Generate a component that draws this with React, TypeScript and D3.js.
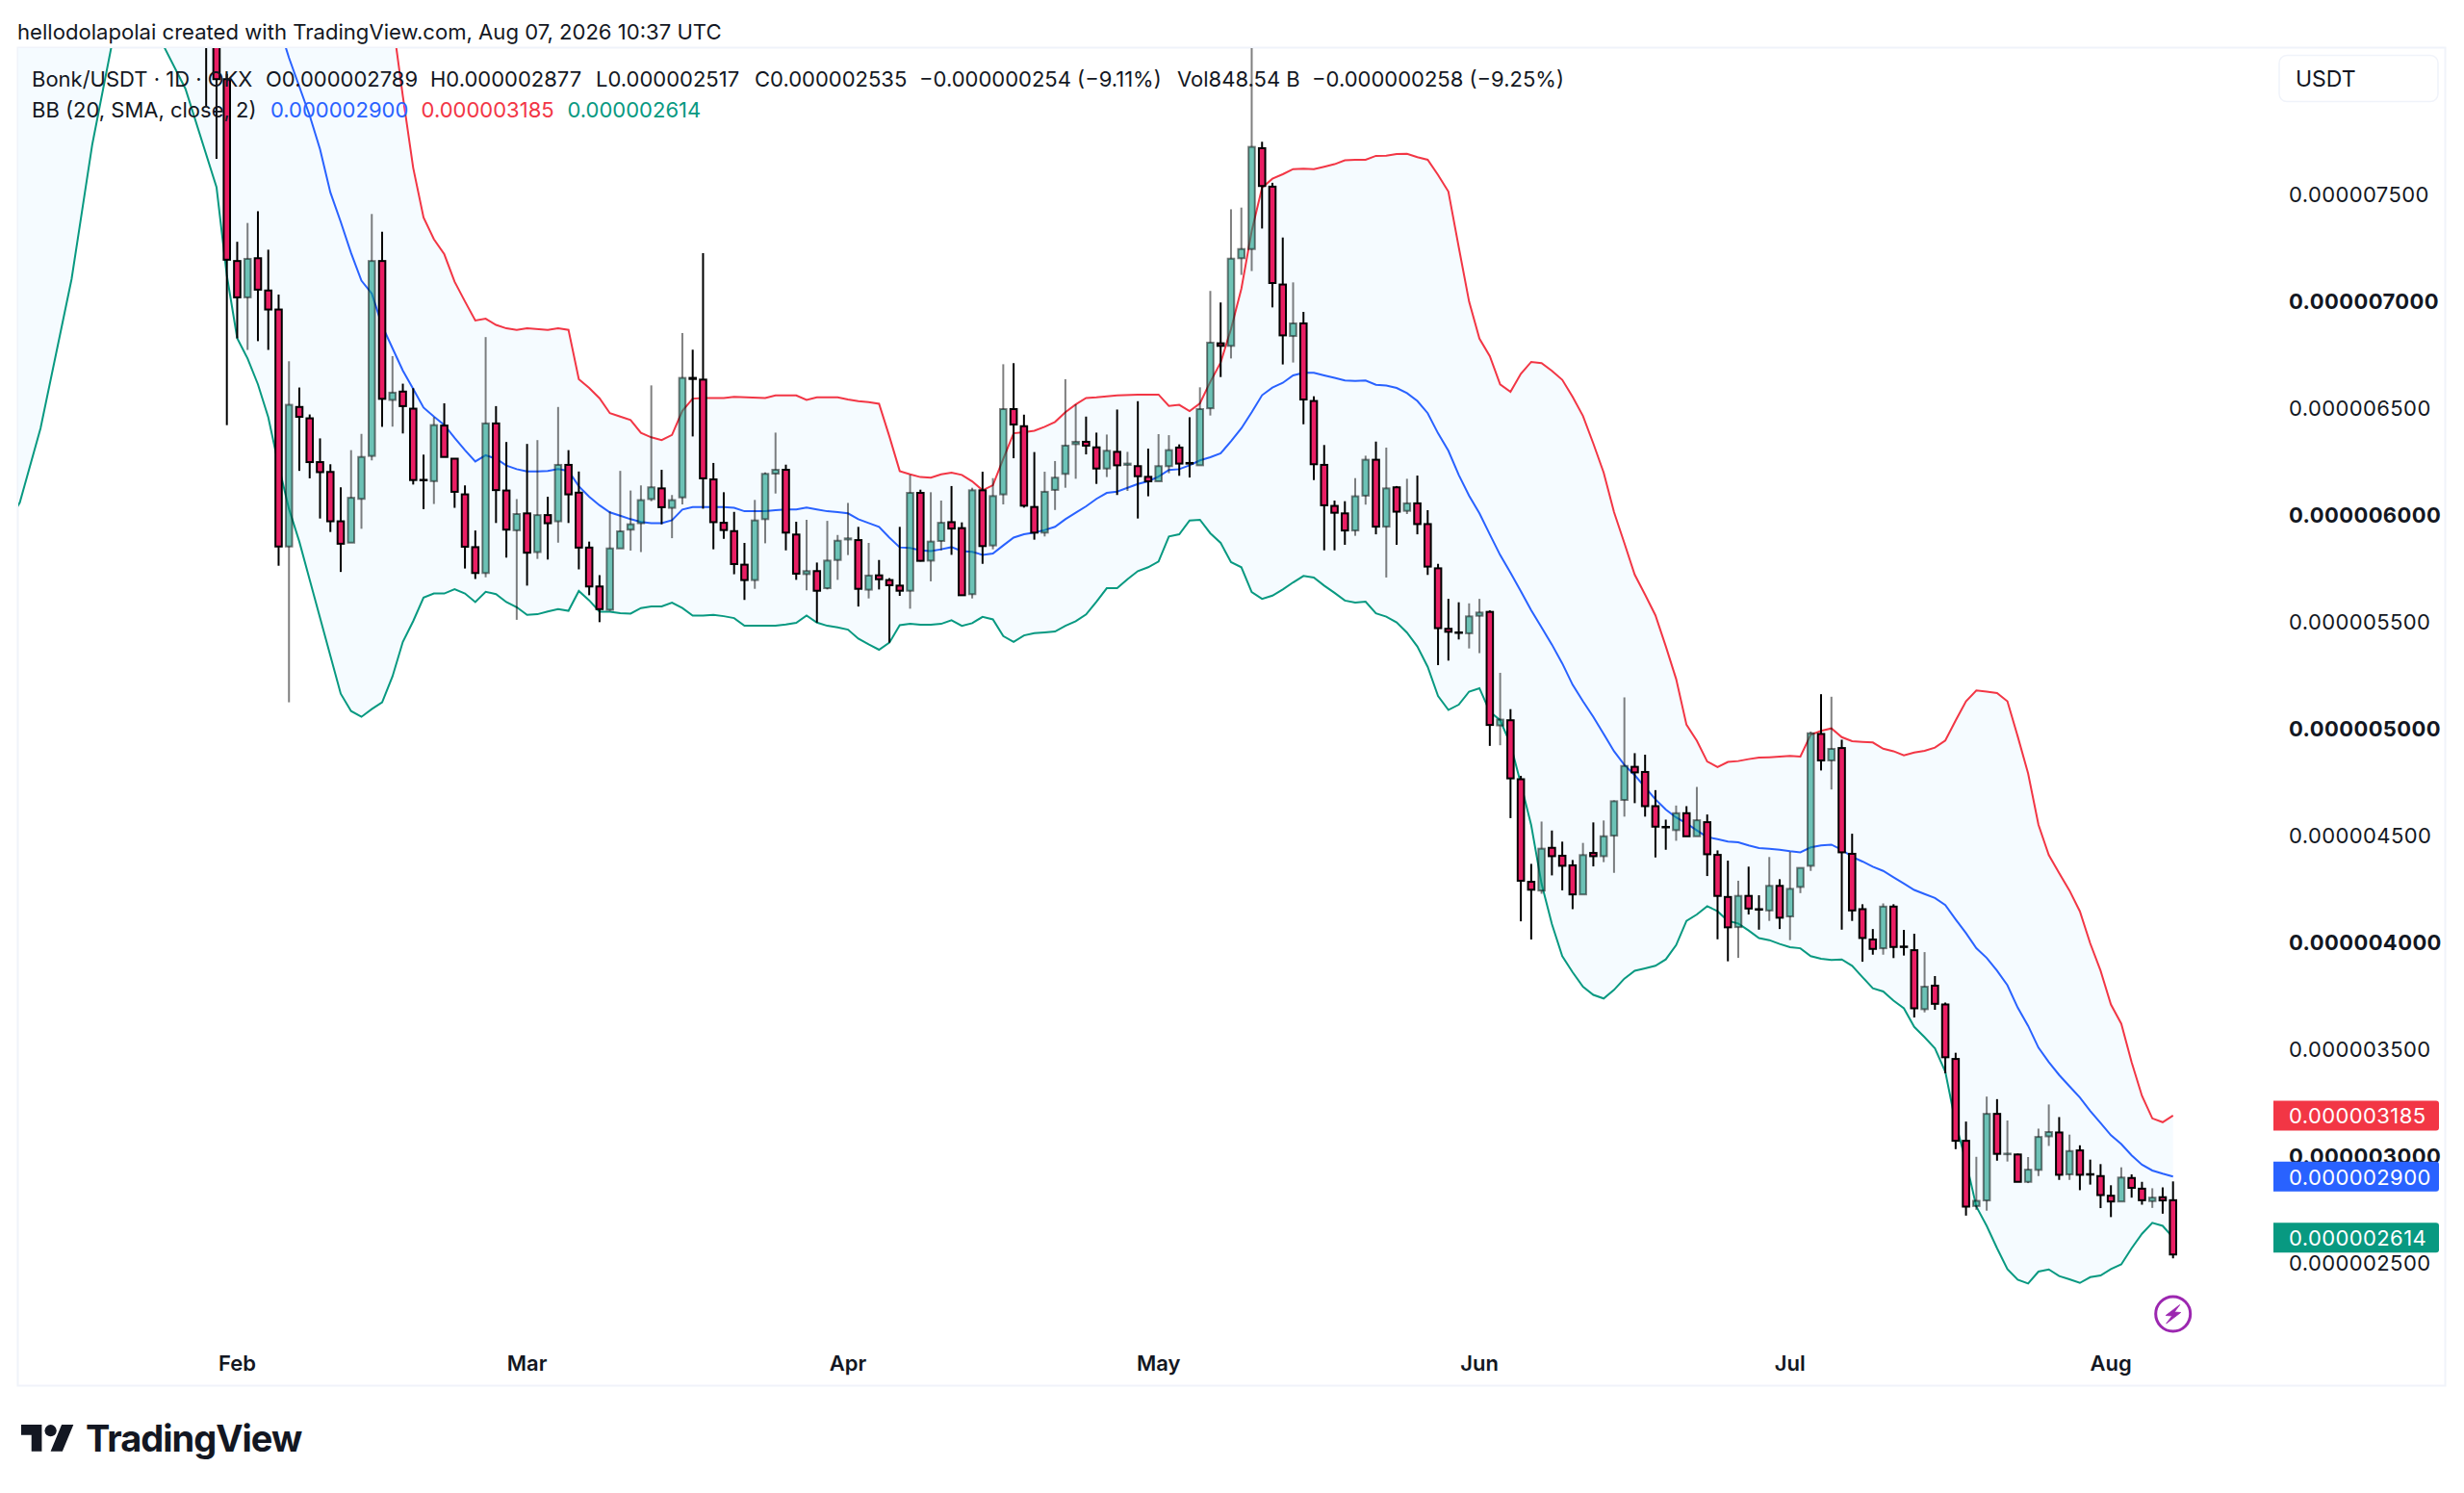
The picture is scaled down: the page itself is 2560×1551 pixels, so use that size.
import React from "react";
import * as d3 from "d3";

// Prices in billionths of USDT (2535 = 0.000002535). First candle is two days before Jan 31.
const firstDay = -2;
const opens = [8800,8600,8035,
7184,7014,7197,7046,6957,5848,6501,6448,6243,6197,5966,5866,6071,6272,7184,6534,6573,6493,6160,6154,6414,6259,6092,5845,5724,6424,6110,5924,6003,5822,5995,5966,6230,6100,5843,5661,5552,5839,5927,5957,6070,6120,6029,
6078,6637,6629,6162,5959,5920,5763,5691,5976,6189,6207,5904,5719,5733,5653,5785,5881,5878,5646,5713,5691,5665,5641,6099,5782,5874,5962,5934,5625,6111,5853,6092,6491,6411,6033,5913,6113,6188,6327,6338,6312,6213,6291,6230,6224,6174,
6153,6224,6311,6239,6228,6495,6799,6787,7197,7240,7712,7532,7074,6833,6892,6529,6230,6038,6003,5923,6086,6254,5941,6125,6015,6050,5953,
5746,5463,5446,5442,5524,5542,5011,5035,4759,4279,4238,
4438,4401,4356,4220,4414,4399,4495,4662,4817,4793,4633,4536,4521,4600,4492,4558,4405,4208,4067,4213,4151,4145,4260,4117,4255,4354,4971,4847,4905,4410,4151,4009,3968,4163,3976,3959,3683,3793,
3705,3450,3067,2762,2788,3193,3004,3003,2875,2931,3088,3106,2910,3022,2911,2902,2810,2783,2893,2843,2785,2803,2789];
const closes = [8600,8035,7190,
7014,7194,7050,6957,5848,6511,6455,6243,6196,5966,5861,6076,6267,7184,6539,6568,6505,6159,6159,6416,6267,6104,5847,5724,6424,6112,5927,6000,5819,5995,5957,6230,6092,5843,5661,5555,5839,5919,5952,6065,6125,6032,6065,
6637,6632,6167,5962,5925,5766,5691,5970,6188,6207,5913,5721,5733,5641,5782,5875,5886,5650,5712,5695,5667,5641,6099,5781,5871,5959,5932,5620,6111,5850,6084,6491,6419,6039,5913,6104,6170,6320,6338,6320,6213,6296,6228,6236,6177,6153,
6224,6299,6236,6236,6491,6802,6787,7195,7240,7718,7535,7081,6836,6892,6536,6233,6041,6006,5923,6083,6254,5941,6120,6011,6050,5953,5754,
5466,5449,5444,5521,5539,5013,5038,4763,4284,4242,4434,
4399,4354,4220,4404,4399,4492,4656,4821,4791,4633,4537,4534,4600,4492,4567,4408,4213,4066,4213,4154,4150,4260,4111,4246,4344,4974,4847,4901,4417,4145,4016,3965,4163,3974,3974,3687,3788,3708,
3458,3067,2759,2786,3193,3006,3007,2875,2932,3085,3108,2908,3019,2908,2910,2813,2783,2895,2847,2789,2801,2788,2535];
const highs = [9000,8900,8060,
7274,7362,7417,7237,7027,6715,6592,6466,6354,6233,6125,6299,6375,7404,7321,6739,6610,6589,6278,6453,6518,6259,6134,5923,6828,6505,6337,6070,6328,6346,6081,6501,6299,6199,5871,5714,6012,6202,6110,6134,6602,6207,6089,
6847,6769,7221,6239,6102,6010,5865,6066,6195,6381,6231,5964,5973,5773,5968,5902,6052,5940,5865,5785,5700,5940,6183,6114,6102,6063,6131,5961,6123,6198,6168,6701,6706,6465,6290,6198,6248,6631,6513,6456,6381,6372,6489,6291,6528,6306,
6374,6369,6326,6453,6593,7044,6990,7426,7434,8300,7742,7550,7294,7084,6946,6551,6323,6063,6060,6168,6273,6339,6311,6131,6165,6180,6018,
5767,5603,5587,5582,5603,5549,5257,5087,4775,4363,4561,
4519,4467,4381,4461,4557,4566,4660,5142,4881,4874,4708,4570,4636,4633,4723,4594,4426,4378,4284,4350,4216,4395,4291,4419,4344,4982,5157,5145,4944,4504,4174,4058,4178,4174,4054,4036,3950,3838,
3714,3479,3157,2992,3274,3262,3162,3007,2991,3124,3237,3178,3096,3046,2979,2958,2859,2943,2910,2875,2845,2849,2877];
const lows = [7910,7662,6416,
6822,6768,6809,6768,5758,5119,6202,6167,5979,5916,5729,5866,5931,6251,6408,6409,6377,6138,6023,6047,6267,6029,5745,5696,5704,5958,5796,5505,5665,5790,5787,5866,5958,5741,5620,5494,5547,5839,5829,5822,6060,5952,5887,
6045,6363,6025,5835,5884,5718,5598,5650,5863,6096,5830,5692,5643,5492,5647,5692,5808,5567,5605,5647,5398,5617,5557,5778,5685,5830,5809,5620,5605,5767,5835,6045,6261,6030,5880,5895,6019,6123,6165,6279,6141,6173,6089,6108,5979,6083,
6153,6191,6179,6171,6228,6461,6641,6728,7119,7137,7336,6967,6700,6709,6420,6159,5830,5830,5856,5898,6044,5905,5703,5856,6000,5905,5715,
5293,5314,5413,5371,5349,4915,4918,4577,4094,4009,4223,
4309,4239,4151,4220,4351,4371,4321,4584,4647,4584,4393,4429,4471,4492,4492,4306,4010,3907,3923,4126,4055,4096,4058,4006,4226,4330,4800,4711,4055,4096,3905,3938,3938,3922,3934,3644,3668,3680,
3383,3028,2717,2744,2740,2974,2970,2875,2869,2902,3043,2884,2884,2836,2862,2752,2710,2783,2801,2768,2753,2726,2517];

// Bollinger bands as [day, price] readings (day 0 = Jan 31); days before the pane or above it are estimates.
const upperBand: [number, number][] = [[-22,10500],[-10,11500],[0,11000],[10,9800],[15,8650],[16,8315],[17,7955],[18,7620],[19,7388],[20,7286],[21,7216],[22,7087],[23,6995],[24,6906],[25,6914],[26,6885],[27,6869],[28,6862],[29,6869],[31,6862],[32,6869],[33,6862],[34,6631],[35,6590],[36,6542],[37,6472],[38,6456],[39,6440],[40,6380],[41,6359],[42,6346],[43,6370],
[44,6483],[45,6540],[46,6543],[48,6543],[49,6548],[52,6543],[53,6555],[55,6555],[56,6534],[57,6546],[59,6546],[60,6536],[61,6528],[62,6524],[63,6516],[64,6363],[65,6201],[66,6186],[67,6173],[68,6170],[69,6186],[70,6194],[71,6183],[72,6153],[73,6111],[74,6135],[75,6258],[76,6378],[77,6383],[78,6390],[79,6408],[80,6431],[81,6476],[82,6513],[83,6543],[84,6546],[86,6555],[88,6558],
[90,6559],[91,6506],[92,6511],[93,6482],[94,6518],[95,6619],[96,6709],[97,6866],[98,7054],[99,7324],[100,7527],[101,7569],[102,7590],[103,7614],[104,7616],[105,7614],[106,7625],[107,7637],[108,7655],[109,7658],[110,7658],[111,7676],[112,7677],[113,7685],[114,7686],[115,7670],[116,7658],[117,7587],[118,7509],[119,7249],[120,6994],[121,6821],[122,6739],[123,6607],[124,6572],[125,6656],[126,6712],[127,6706],[128,6670],[129,6628],
[130,6548],[131,6459],[132,6330],[133,6194],[134,6009],[135,5864],[136,5716],[137,5623],[138,5526],[139,5381],[140,5228],[141,5014],[142,4939],[143,4842],[144,4816],[145,4840],[146,4844],[147,4853],[148,4860],[149,4862],[150,4865],[151,4868],[152,4865],[153,4967],[154,4985],[155,4997],[156,4956],[157,4937],[158,4934],[159,4931],[160,4902],[161,4890],[162,4871],[163,4884],[164,4892],[165,4907],[166,4940],[167,5034],[168,5124],[169,5174],[170,5169],[171,5162],[172,5124],[173,4959],[174,4786],[175,4546],[176,4404],[177,4320],
[178,4238],[179,4141],[180,3991],[181,3863],[182,3705],[183,3615],[184,3435],[185,3277],[186,3172],[187,3154],[188,3185]];
const middleBand: [number, number][] = [[-2,9000],[3,8600],[6,8135],[8,7865],[9,7707],[10,7505],[11,7367],[12,7221],[13,7092],[14,7032],[15,6881],[16,6776],[17,6671],[18,6586],[19,6498],[20,6456],[21,6417],[22,6356],[23,6299],[24,6246],[25,6275],[26,6259],[27,6227],[28,6210],[29,6199],[30,6199],[31,6202],[32,6210],[33,6202],[34,6130],[35,6081],[36,6041],[37,6008],[38,5992],[39,5976],[40,5963],[41,5957],[42,5957],[43,5971],
[44,6021],[45,6033],[46,6033],[47,6033],[48,6033],[49,6029],[50,6013],[51,6013],[52,6013],[53,6018],[54,6021],[55,6021],[56,6030],[57,6021],[58,6013],[59,6009],[60,6003],[61,5976],[62,5958],[63,5940],[64,5890],[65,5844],[66,5841],[67,5830],[68,5827],[69,5835],[70,5845],[71,5827],[72,5823],[73,5809],[74,5815],[75,5853],[76,5890],[77,5905],[78,5913],[79,5925],[80,5940],[81,5976],[82,6006],[83,6036],[84,6071],[85,6099],[86,6105],[87,6123],[88,6141],[89,6153],
[90,6175],[91,6206],[92,6210],[93,6228],[94,6251],[95,6266],[96,6284],[97,6341],[98,6401],[99,6476],[100,6556],[101,6592],[102,6614],[103,6649],[104,6661],[105,6661],[106,6649],[107,6637],[108,6625],[109,6623],[110,6625],[111,6605],[112,6601],[113,6590],[114,6566],[115,6529],[116,6472],[117,6378],[118,6296],[119,6183],[120,6086],[121,6003],[122,5905],[123,5808],[124,5725],[125,5639],[126,5550],[127,5470],[128,5389],[129,5301],[130,5201],[131,5124],[132,5051],[133,4971],[134,4890],[135,4826],[136,4778],[137,4721],[138,4665],[139,4617],[140,4580],[141,4552],[142,4520],[143,4488],[144,4479],[145,4467],[146,4464],[147,4449],[148,4437],[149,4434],[150,4429],[151,4422],[152,4417],[153,4440],[154,4449],[155,4453],[156,4429],[157,4396],[158,4374],[159,4350],[160,4330],[161,4300],[162,4271],[163,4241],[164,4222],[165,4203],[166,4170],
[167,4103],[168,4039],[169,3968],[170,3923],[171,3863],[172,3795],[173,3690],[174,3605],[175,3503],[176,3435],[177,3375],[178,3322],[179,3270],[180,3207],[181,3150],[182,3093],[183,3052],[184,2999],[185,2955],[186,2928],[187,2913],[188,2900]];
const lowerBand: [number, number][] = [[-22,5800],[-21,5970],[-20,6054],[-18,6401],[-15,7099],[-13,7730],[-11,8225],[-9,9300],[-7,8750],[-6,8180],[-4,7990],[-1,7530],[0,7116],[1,6822],[2,6728],[3,6607],[4,6453],[5,6227],[6,6024],[7,5871],[8,5693],[9,5515],[10,5337],[11,5159],[12,5078],[13,5051],[14,5087],[15,5119],[16,5240],[17,5402],[18,5499],[19,5609],[20,5628],[21,5628],[22,5648],[23,5628],[24,5588],[25,5636],[26,5625],[27,5588],[28,5564],[29,5528],[30,5531],[31,5544],[32,5555],[33,5547],[34,5640],[35,5596],[36,5543],[37,5543],[38,5536],[39,5534],[40,5560],[41,5568],[42,5568],[43,5585],
[44,5560],[45,5525],[46,5525],[47,5528],[48,5522],[49,5513],[50,5477],[51,5477],[52,5477],[53,5477],[54,5483],[55,5491],[56,5525],[57,5492],[58,5477],[59,5470],[60,5459],[61,5417],[62,5390],[63,5365],[64,5398],[65,5480],[66,5486],[67,5482],[68,5482],[69,5486],[70,5503],[71,5477],[72,5489],[73,5519],[74,5507],[75,5429],[76,5402],[77,5432],[78,5443],[79,5446],[80,5450],[81,5477],[82,5498],[83,5530],[84,5590],[85,5653],[86,5653],[87,5695],[88,5733],[89,5751],
[90,5778],[91,5895],[92,5905],[93,5970],[94,5973],[95,5910],[96,5865],[97,5775],[98,5751],[99,5635],[100,5603],[101,5618],[102,5647],[103,5680],[104,5710],[105,5703],[106,5665],[107,5631],[108,5595],[109,5586],[110,5590],[111,5535],[112,5520],[113,5493],[114,5445],[115,5380],[116,5285],[117,5148],[118,5083],[119,5108],[120,5169],[121,5185],[122,5075],[123,5035],[124,4923],[125,4738],[126,4544],[127,4270],[128,4081],
[129,3931],[130,3856],[131,3788],[132,3750],[133,3733],[134,3773],[135,3826],[136,3863],[137,3874],[138,3886],[139,3916],[140,3983],[141,4096],[142,4126],[143,4165],[144,4141],[145,4096],[146,4084],[147,4051],[148,4016],[149,4006],[150,3988],[151,3973],[152,3968],[153,3931],[154,3919],[155,3913],[156,3916],[157,3886],[158,3833],[159,3781],[160,3766],[161,3723],[162,3687],[163,3600],[164,3552],[165,3500],[166,3390],
[167,3150],[168,2970],[169,2759],[170,2669],[171,2564],[172,2467],[173,2417],[174,2399],[175,2455],[176,2465],[177,2434],[178,2419],[179,2402],[180,2429],[181,2437],[182,2467],[183,2489],[184,2564],[185,2632],[186,2683],[187,2669],[188,2614]];

const priceTicks = [7500,7000,6500,6000,5500,5000,4500,4000,3500,3000,2500];
const monthLabels = ["Feb","Mar","Apr","May","Jun","Jul","Aug"];
const monthDays = [1,29,60,90,121,151,182];
const badgeLabels = ["0.000003185","0.000002900","0.000002614"];
const badgeValues = [3185,2900,2614];
const badgeColors = ["#f23645","#2962ff","#089981"];
const legendRow1: [string, number][] = [["Bonk/USDT · 1D · OKX",33],["O0.000002789",276],["H0.000002877",447],["L0.000002517",619],["C0.000002535",784],["−0.000000254 (−9.11%)",955],["Vol848.54 B",1223],["−0.000000258 (−9.25%)",1363]];
const legendRow2: [string, number, string][] = [["BB (20, SMA, close, 2)",33,"#131722"],["0.000002900",281,"#2962ff"],["0.000003185",437.6,"#f23645"],["0.000002614",589.5,"#089981"]];

const FONT = "Inter, 'Noto Sans', sans-serif";
const INK = "#131722";

export default function App() {
  const x = d3.scaleLinear().domain([0, 188]).range([235.7, 2257.7]);
  const y = d3.scaleLinear().domain([2500, 7500]).range([1311, 201]);
  const line = d3.line<[number, number]>().x((d) => x(d[0])).y((d) => y(d[1]));
  const fillPath = line([...upperBand, ...[...lowerBand].reverse()]) + "Z";
  const bodyW = 6.6;
  return (
    <svg width={2560} height={1551} viewBox="0 0 2560 1551" style={{ position: "fixed", left: 0, top: 0, background: "#fff" }} fontFamily={FONT}>
      <defs>
        <clipPath id="pane"><rect x={19} y={50} width={2521} height={1389} /></clipPath>
      </defs>
      <text x={18} y={41} fontSize={22.1} fill={INK}>hellodolapolai created with TradingView.com, Aug 07, 2026 10:37 UTC</text>
      <rect x={18.5} y={49.5} width={2522} height={1390} fill="#fff" stroke="#f0f3fa" strokeWidth={2} />
      <g clipPath="url(#pane)">
        <path d={fillPath} fill="#f5fbff" />
        <path d={line(upperBand)!} fill="none" stroke="#f23645" strokeWidth={2} />
        <path d={line(middleBand)!} fill="none" stroke="#2962ff" strokeWidth={2} />
        <path d={line(lowerBand)!} fill="none" stroke="#089981" strokeWidth={2} />
        {opens.map((o, k) => {
          const day = firstDay + k;
          const c = closes[k];
          const up = c > o;
          const cx = x(day);
          const top = y(Math.max(o, c));
          const bot = y(Math.min(o, c));
          const edge = up ? "rgba(0,0,0,0.5)" : "#000";
          return (
            <g key={day}>
              <line x1={cx} x2={cx} y1={y(highs[k])} y2={top} stroke={edge} strokeWidth={2} />
              <line x1={cx} x2={cx} y1={bot} y2={y(lows[k])} stroke={edge} strokeWidth={2} />
              <rect x={cx - bodyW / 2} y={top} width={bodyW} height={Math.max(bot - top, 0.5)} fill={up ? "rgba(8,153,129,0.58)" : "#e91e63"} stroke={edge} strokeWidth={2} />
            </g>
          );
        })}
      </g>
      {legendRow1.map(([t, px]) => (
        <text key={t} x={px} y={90} fontSize={22} fill={INK}>{t}</text>
      ))}
      {legendRow2.map(([t, px, col]) => (
        <text key={t} x={px} y={122} fontSize={22} fill={col}>{t}</text>
      ))}
      <rect x={2368} y={57.5} width={165} height={48} rx={8} fill="#fff" stroke="#f0f3fa" strokeWidth={1.5} />
      <text x={2385} y={90} fontSize={23} fill={INK}>USDT</text>
      {priceTicks.map((t) => (
        <text key={t} x={2378} y={y(t) + 9} fontSize={22} letterSpacing={0.4} fontWeight={t % 1000 === 0 ? 700 : 400} fill={INK}>{(t / 1e9).toFixed(9)}</text>
      ))}
      {badgeValues.map((v, k) => {
        const cy = y(v);
        return (
          <g key={v}>
            <path d={`M2362 ${cy - 15.5}H2531a3 3 0 0 1 3 3V${cy + 12.5}a3 3 0 0 1 -3 3H2362Z`} fill={badgeColors[k]} />
            <text x={2378} y={cy + 8.5} fontSize={22} letterSpacing={0.4} fill="#fff">{badgeLabels[k]}</text>
          </g>
        );
      })}
      {monthLabels.map((m, k) => (
        <text key={m} x={x(monthDays[k])} y={1424} fontSize={22} fontWeight={600} textAnchor="middle" fill={INK}>{m}</text>
      ))}
      <g transform={`translate(${x(188)},1365)`}>
        <circle r={18} fill="none" stroke="#9c27b0" strokeWidth={3} />
        <path d="M7 -9.5L-7.5 1.5L-1 2L-7 10L8 -1.5L1.5 -2Z" fill="#9c27b0" stroke="#9c27b0" strokeWidth={0.8} />
      </g>
      <g transform="translate(22,1474) scale(1.53)" fill="#131722">
        <path d="M14 22H7V11H0V4h14v18zM28 22h-8l7.5-18h8L28 22z" />
        <circle cx={20} cy={8} r={4} />
      </g>
      <text x={89} y={1508} fontSize={38} fontWeight={700} letterSpacing={-1} fill="#131722">TradingView</text>
    </svg>
  );
}
